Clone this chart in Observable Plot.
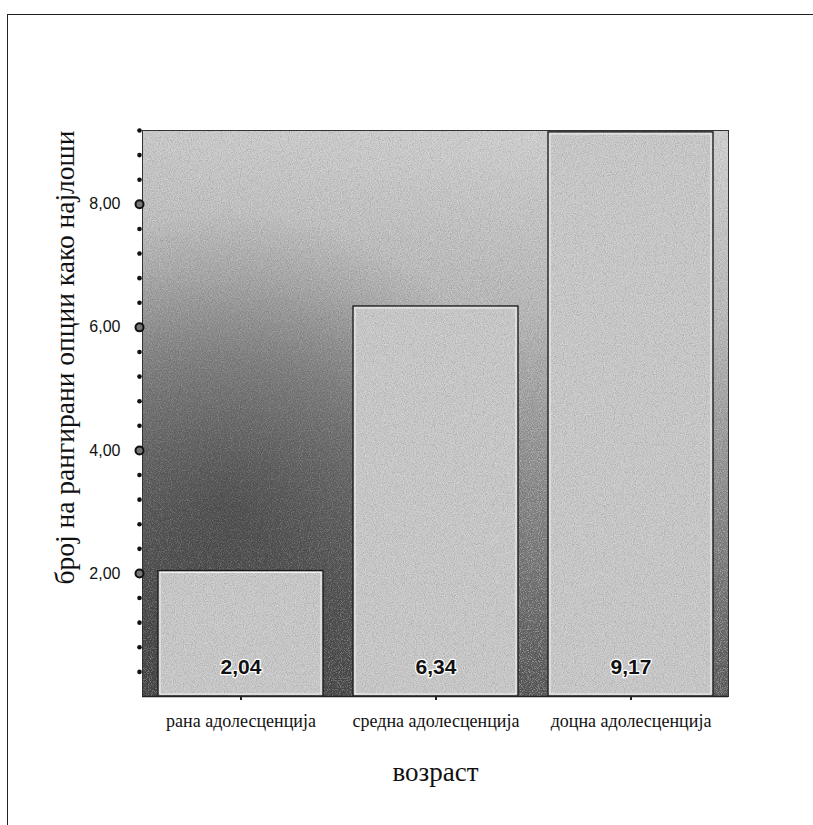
<!DOCTYPE html>
<html><head><meta charset="utf-8">
<script src="https://cdn.jsdelivr.net/npm/d3@7"></script>
<script src="https://cdn.jsdelivr.net/npm/@observablehq/plot@0.6"></script>
<style>
body{margin:0;background:#fff;}
#wrap{position:relative;width:813px;height:825px;overflow:hidden;}
#border{position:absolute;left:7px;top:14px;width:900px;height:900px;border-left:1.5px solid #222;border-top:1.5px solid #222;}
#chart{position:absolute;left:0;top:0;}
</style></head><body>
<div id="wrap"><div id="border"></div><div id="chart"></div></div>
<script>
const categories = ["рана адолесценција", "средна адолесценција", "доцна адолесценција"];
const values = [2.04, 6.34, 9.17];
const valueLabels = ["2,04", "6,34", "9,17"];
const yTicks = [2, 4, 6, 8];
const yTickLabels = ["2,00", "4,00", "6,00", "8,00"];
const yMinorStep = 0.4;
const yMax = 9.2;
const xTitle = "возраст";
const yTitle = "број на рангирани опции како најлоши";

const data = categories.map((c, i) => ({cat: c, value: values[i], label: valueLabels[i]}));
const minorTicks = d3.range(1, Math.round(yMax / yMinorStep) + 1).map(k => +(k * yMinorStep).toFixed(2));

const serif = "'Liberation Serif','Times New Roman',serif";
const sans = "'Liberation Sans',Arial,sans-serif";

const chart = Plot.plot({
  width: 813, height: 825,
  marginLeft: 142, marginRight: 85, marginTop: 130, marginBottom: 129,
  style: {background: "transparent", fontFamily: sans, overflow: "visible"},
  x: {domain: categories, paddingInner: 0.155, paddingOuter: 0.08, label: null},
  y: {domain: [0, yMax], label: null},
  marks: [
    Plot.frame({fill: "url(#vGrad)"}),
    Plot.frame({fill: "url(#rGrad)"}),
    Plot.frame({stroke: "#333", strokeWidth: 1}),
    Plot.barY(data, {x: "cat", y: "value", fill: "#c6c6c6"}),
    Plot.barY(data, {x: "cat", y: "value", fill: "none", stroke: "#1a1a1a", strokeWidth: 1.3}),
    Plot.barY(data, {x: "cat", y: "value", fill: "none", stroke: "#f2f2f2", strokeWidth: 1, inset: 2}),
    Plot.text(data, {x: "cat", y: 0, text: "label", dy: -29, fontSize: 21, fontWeight: "bold", fontFamily: sans, fill: "#111", stroke: "#fff", strokeWidth: 2.5, paintOrder: "stroke"}),
    Plot.ruleY([0], {stroke: "#222", strokeWidth: 1.5}),
    Plot.axisX({tickSize: 4, tickPadding: 14, fontSize: 18, fontFamily: serif, stroke: "#222", strokeWidth: 2, label: null, fill: "#111", style: {letterSpacing: "0.9px"}}),
    Plot.axisY(yTicks, {tickSize: 0, tickPadding: 22, tickFormat: d => yTickLabels[yTicks.indexOf(d)], fontSize: 16, label: null, fill: "#111"}),
    Plot.dot(minorTicks, {y: d => d, frameAnchor: "left", dx: -3, r: 2.3, fill: "#111"}),
    Plot.dot(yTicks, {y: d => d, frameAnchor: "left", dx: -3, r: 4, fill: "#777", stroke: "#111", strokeWidth: 2}),
    Plot.text([yTitle], {frameAnchor: "left", textAnchor: "middle", dx: -77, dy: -56, rotate: -90, fontSize: 27.5, fontFamily: serif, fill: "#111"}),
    Plot.text([xTitle], {frameAnchor: "bottom", textAnchor: "middle", lineAnchor: "middle", dy: 76, fontSize: 27, fontFamily: serif, fill: "#111"})
  ]
});

const defs = d3.select(chart).insert("defs", ":first-child");
const vg = defs.append("linearGradient").attr("id", "vGrad")
  .attr("x1", 0.55).attr("y1", 0).attr("x2", 0.45).attr("y2", 1);
[[0, "#cccccc"], [0.3, "#b6b6b6"], [0.6, "#8a8a8a"], [1, "#525252"]]
  .forEach(([o, c]) => vg.append("stop").attr("offset", o).attr("stop-color", c));
const rg = defs.append("radialGradient").attr("id", "rGrad")
  .attr("cx", 0.15).attr("cy", 0.66).attr("r", 0.52);
[[0, "#000", 0.36], [0.5, "#000", 0.22], [1, "#000", 0]]
  .forEach(([o, c, a]) => rg.append("stop").attr("offset", o).attr("stop-color", c).attr("stop-opacity", a));

const f = defs.append("filter").attr("id", "grain").attr("x", 0).attr("y", 0).attr("width", 1).attr("height", 1);
f.append("feTurbulence").attr("type", "fractalNoise").attr("baseFrequency", 1.1).attr("numOctaves", 1).attr("seed", 3).attr("result", "t");
f.append("feColorMatrix").attr("in", "t").attr("type", "matrix")
  .attr("values", "0.45 0 0 0 0.275  0.45 0 0 0 0.275  0.45 0 0 0 0.275  0 0 0 0 1").attr("result", "n");
f.append("feBlend").attr("in", "SourceGraphic").attr("in2", "n").attr("mode", "overlay").attr("result", "b");
f.append("feComposite").attr("in", "b").attr("in2", "SourceGraphic").attr("operator", "in");

const frames = d3.select(chart).selectAll("[aria-label=frame]").nodes();
d3.select(frames[0]).attr("filter", "url(#grain)");
d3.select(chart).selectAll("[aria-label=bar]").filter((d, i) => i === 0).selectAll("rect").attr("filter", "url(#grain)");

document.getElementById("chart").appendChild(chart);
</script>
</body></html>
